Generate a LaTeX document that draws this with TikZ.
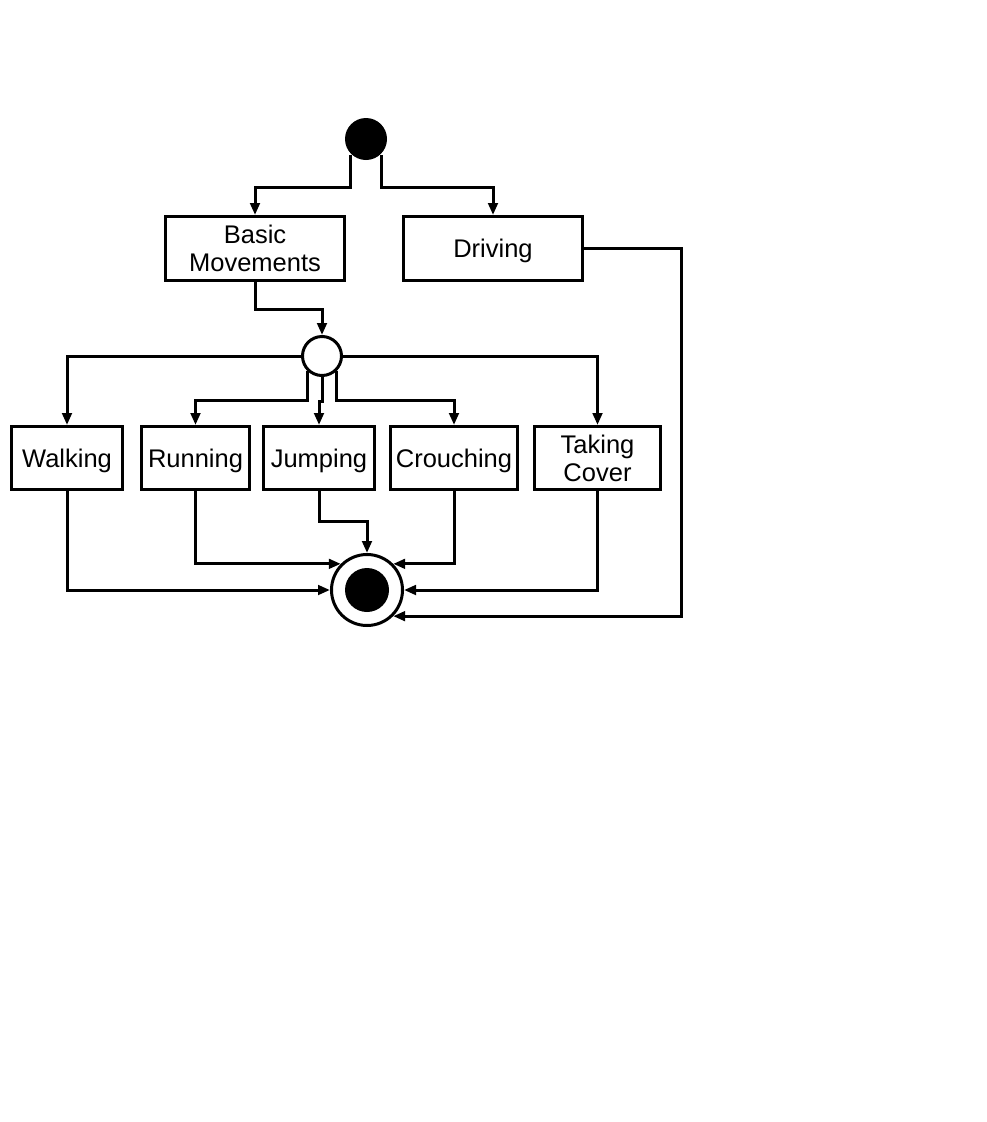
\documentclass[tikz,border=0pt]{standalone}
\usepackage{fontspec}
\setmainfont{Liberation Sans}
\usetikzlibrary{arrows.meta, positioning}

\begin{document}
\begin{tikzpicture}[
    x=1pt, y=-1pt,
    every node/.style={line width=3pt, font=\fontsize{25.5}{28}\selectfont},
    box/.style={draw, align=center, minimum height=63pt, inner sep=2pt, text depth=0pt},
    initial/.style={circle, fill, minimum size=42pt, inner sep=0pt},
    fork/.style={circle, draw, minimum size=39pt, inner sep=0pt},
    final/.style={circle, draw, minimum size=71pt, inner sep=0pt,
        path picture={\fill (path picture bounding box.center) circle (22pt);}},
    arrow/.style={-{Triangle[length=12pt, width=9.5pt]}, line width=3pt}
]
\useasboundingbox (0,0) rectangle (986,1122);

% Nodes
\node[initial] (start) at (366,139) {};
\node[box, minimum width=179pt, minimum height=64pt] (basic) at (255,248.5) {Basic\\Movements};
\node[box, minimum width=179pt, minimum height=64pt] (driving) [right=56pt of basic] {Driving};
\node[fork] (fork) at (322,356) {};
\node[box, minimum width=111pt] (walking) at (67,458) {Walking};
\node[box, minimum width=108pt] (running) [right=16pt of walking] {Running};
\node[box, minimum width=111pt] (jumping) [right=11pt of running] {Jumping};
\node[box, minimum width=127pt] (crouching) [right=13pt of jumping] {Crouching};
\node[box, minimum width=126pt] (cover) [right=14pt of crouching] {Taking\\Cover};
\node[final] (end) at (367,590) {};

% Arrows
\draw[arrow] (start.south west) -- ++(0,33) -| (basic.north);
\draw[arrow] (start.south east) -- ++(0,33) -| (driving.north);
\draw[arrow] (basic.south) -- ++(0,27) -| (fork.north);
\draw[arrow] (fork.west) -| (walking.north);
\draw[arrow] (fork.south west) -- ++(0,30) -| (running.north);
\draw[arrow] (fork.south) -- ++(0,24) -| (jumping.north);
\draw[arrow] (fork.south east) -- ++(0,30) -| (crouching.north);
\draw[arrow] (fork.east) -| (cover.north);
\draw[arrow] (walking.south) |- (end.west);
\draw[arrow] (running.south) |- (end.north west);
\draw[arrow] (jumping.south) -- ++(0,30) -| (end.north);
\draw[arrow] (crouching.south) |- (end.north east);
\draw[arrow] (cover.south) |- (end.east);
\draw[arrow] (driving.east) -- ++(97,0) |- (end.south east);

\end{tikzpicture}
\end{document}
